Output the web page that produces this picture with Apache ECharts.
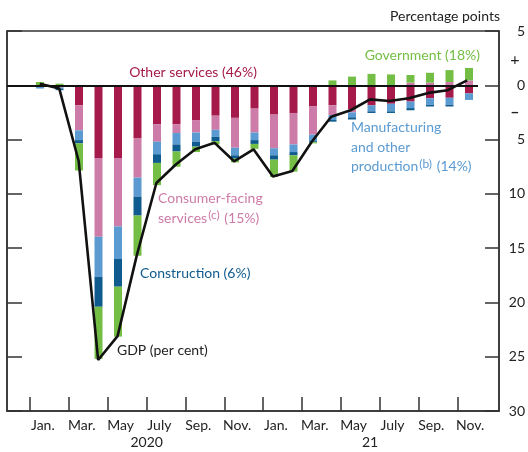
<!DOCTYPE html>
<html><head><meta charset="utf-8">
<script src="https://cdn.jsdelivr.net/npm/echarts@6/dist/echarts.min.js"></script>
<style>html,body{margin:0;padding:0;background:#fff}#c{width:528px;height:452px}</style>
</head><body><div id="c"></div>
<script>
// Jan 2020 .. Nov 2021, percentage points change since Feb 2020 (sign: + up, - down)
const months = ['Jan.','Feb.','Mar.','Apr.','May','June','July','Aug.','Sep.','Oct.','Nov.','Dec.',
                'Jan.','Feb.','Mar.','Apr.','May','June','July','Aug.','Sep.','Oct.','Nov.'];
const otherServices = [-0.1,-0.1,-1.85,-6.7,-6.7,-4.9,-3.6,-3.6,-3.2,-2.8,-3.0,-2.15,
                       -2.7,-2.55,-1.95,-1.85,-2.2,-1.85,-1.7,-1.5,-1.2,-1.15,-0.75];
const consumerFacing = [0,-0.1,-2.3,-7.25,-6.3,-3.6,-1.6,-0.8,-1.15,-1.3,-2.75,-2.2,
                        -3.1,-2.9,-2.6,-0.9,-0.3,0,0,0.25,0.25,0.3,0.45];
const manufacturing = [-0.2,-0.1,-0.9,-3.7,-3.0,-1.75,-1.15,-1.05,-0.85,-0.65,-0.7,-0.7,
                       -0.65,-0.7,-0.6,-0.45,-0.45,-0.55,-0.7,-0.6,-0.6,-0.65,-0.6];
const construction = [0,-0.15,-0.3,-2.75,-2.55,-1.75,-0.8,-0.65,-0.45,-0.4,-0.3,-0.35,
                      -0.4,-0.3,-0.1,-0.15,-0.2,-0.15,-0.15,-0.2,-0.15,-0.15,0];
const government = [0.3,0.15,-2.5,-4.8,-4.6,-3.7,-2.05,-1.4,-0.5,-0.3,-0.35,-0.45,
                    -1.6,-1.5,-0.1,0.45,0.8,1.05,1.0,0.7,0.9,1.1,1.15];
const gdp = [0.15,-0.3,-7.0,-25.3,-23.1,-15.6,-9.0,-7.3,-5.9,-5.3,-7.0,-5.9,
             -8.4,-7.9,-5.2,-2.9,-2.3,-1.3,-1.45,-1.2,-0.7,-0.45,0.45];
const monthLabelIdx = [0,2,4,6,8,10,12,14,16,18,20,22];
const monthTickPos = [-0.5,1.5,3.5,5.5,7.5,9.5,11.5,13.5,15.5,17.5,19.5,21.5];
const yearLabels = [{pos:5.5, text:'2020'}, {pos:17, text:'21'}];
const yMin = -30, yMax = 5, yStep = 5;

const FONT = 'Lato';
const C = {other:'#A51A4A', consumer:'#CD7BA8', manuf:'#5B9BD1', constr:'#0F5A8E', gov:'#74BE45', axis:'#333', text:'#222'};
const XMIN = -1.692, XMAX = 23.641;
const pairs = arr => arr.map((v,i)=>[i,v]);
const catIdx = months.map((m,i)=>String(i));

function barSeries(name, data, color){
  return {name, type:'bar', stack:'all', barWidth:8, data:data.slice(),
          xAxisIndex:2, yAxisIndex:2,
          itemStyle:{color}, emphasis:{disabled:true}, z:2};
}

const chart = echarts.init(document.getElementById('c'), null, {renderer:'canvas'});
chart.setOption({
  animation:false,
  textStyle:{fontFamily:FONT},
  grid:[
    {left:7, right:27, top:31, bottom:41, show:true, borderColor:C.axis, borderWidth:1.5, backgroundColor:'transparent'},
    {left:30.25, right:49.25, top:31, bottom:41, show:false}
  ],
  xAxis:[{
    type:'value', gridIndex:0, min:XMIN, max:XMAX,
    axisLine:{show:true, onZero:false, lineStyle:{color:C.axis, width:1.5}},
    axisTick:{show:true, inside:true, length:14, customValues:monthTickPos, lineStyle:{color:C.axis, width:1.5}},
    axisLabel:{show:true, customValues:monthLabelIdx, formatter:v=>months[Math.round(v)],
               color:C.text, fontSize:14, fontFamily:FONT, margin:7, padding:[0,0,0,6]},
    splitLine:{show:false}
  },{
    type:'value', gridIndex:0, min:XMIN, max:XMAX, position:'bottom',
    axisLine:{show:false}, axisTick:{show:false}, splitLine:{show:false},
    axisLabel:{show:true, customValues:yearLabels.map(d=>d.pos),
               formatter:v=>{const f=yearLabels.find(d=>Math.abs(d.pos-v)<1e-6);return f?f.text:'';},
               color:C.text, fontSize:14, fontFamily:FONT, margin:24}
  },{
    type:'category', gridIndex:1, data:catIdx, boundaryGap:true,
    axisLine:{show:false}, axisTick:{show:false}, axisLabel:{show:false}, splitLine:{show:false}
  }],
  yAxis:[{
    type:'value', gridIndex:0, position:'right', min:yMin, max:yMax, interval:yStep,
    axisLine:{show:true, onZero:false, lineStyle:{color:C.axis, width:1.5}},
    axisTick:{show:true, inside:true, length:14, lineStyle:{color:C.axis, width:1.5}},
    axisLabel:{formatter:v=>String(Math.abs(v)), align:'right', margin:26, color:C.text, fontSize:14, fontFamily:FONT},
    splitLine:{show:false}
  },{
    type:'value', gridIndex:0, position:'left', min:yMin, max:yMax, interval:yStep,
    axisLine:{show:true, onZero:false, lineStyle:{color:C.axis, width:1.5}},
    axisTick:{show:true, inside:true, length:15, lineStyle:{color:C.axis, width:1.5}},
    axisLabel:{show:false}, splitLine:{show:false}
  },{
    type:'value', gridIndex:1, min:yMin, max:yMax, interval:yStep,
    axisLine:{show:false}, axisTick:{show:false}, axisLabel:{show:false}, splitLine:{show:false}
  }],
  series:[
    barSeries('Other services', otherServices, C.other),
    barSeries('Consumer-facing services', consumerFacing, C.consumer),
    barSeries('Manufacturing and other production', manufacturing, C.manuf),
    barSeries('Construction', construction, C.constr),
    barSeries('Government', government, C.gov),
    {name:'GDP', type:'line', xAxisIndex:0, yAxisIndex:0, data:pairs(gdp), symbol:'none', z:5,
     lineStyle:{color:'#111', width:2.6}, emphasis:{disabled:true},
     markLine:{silent:true, symbol:'none', label:{show:false}, z:4,
       lineStyle:{color:'#111', width:2, type:'solid'},
       data:[[{coord:[XMIN,0]},{coord:[22.56,0]}]]}}
  ],
  graphic:[
    {type:'text', left:390, top:9, style:{text:'Percentage points', fill:C.text, font:'14px '+FONT}},
    {type:'text', x:515, y:60, style:{text:'+', fill:C.text, font:'16px '+FONT, align:'center', verticalAlign:'middle'}},
    {type:'text', x:515, y:112, style:{text:'–', fill:C.text, font:'bold 16px '+FONT, align:'center', verticalAlign:'middle'}},
    {type:'text', x:193, y:72, style:{text:'Other services (46%)', fill:C.other, font:'14px '+FONT, align:'center', verticalAlign:'middle'}},
    {type:'text', x:480, y:55, style:{text:'Government (18%)', fill:C.gov, font:'14px '+FONT, align:'right', verticalAlign:'middle'}},
    {type:'text', x:351, y:118, style:{
      text:'Manufacturing\nand other\nproduction{s|(b)} (14%)', fill:C.manuf, font:'14px '+FONT, lineHeight:19.5,
      rich:{s:{fontSize:12, fill:C.manuf, fontFamily:FONT, padding:[0,1,6,1]}}}},
    {type:'text', x:158, y:189, style:{
      text:'Consumer-facing\nservices{s|(c)} (15%)', fill:C.consumer, font:'14px '+FONT, lineHeight:19.5,
      rich:{s:{fontSize:12, fill:C.consumer, fontFamily:FONT, padding:[0,1,6,1]}}}},
    {type:'text', x:140, y:273, style:{text:'Construction (6%)', fill:C.constr, font:'14px '+FONT, verticalAlign:'middle'}},
    {type:'text', x:117, y:350, style:{text:'GDP (per cent)', fill:'#222', font:'14px '+FONT, verticalAlign:'middle'}}
  ]
});
</script></body></html>
